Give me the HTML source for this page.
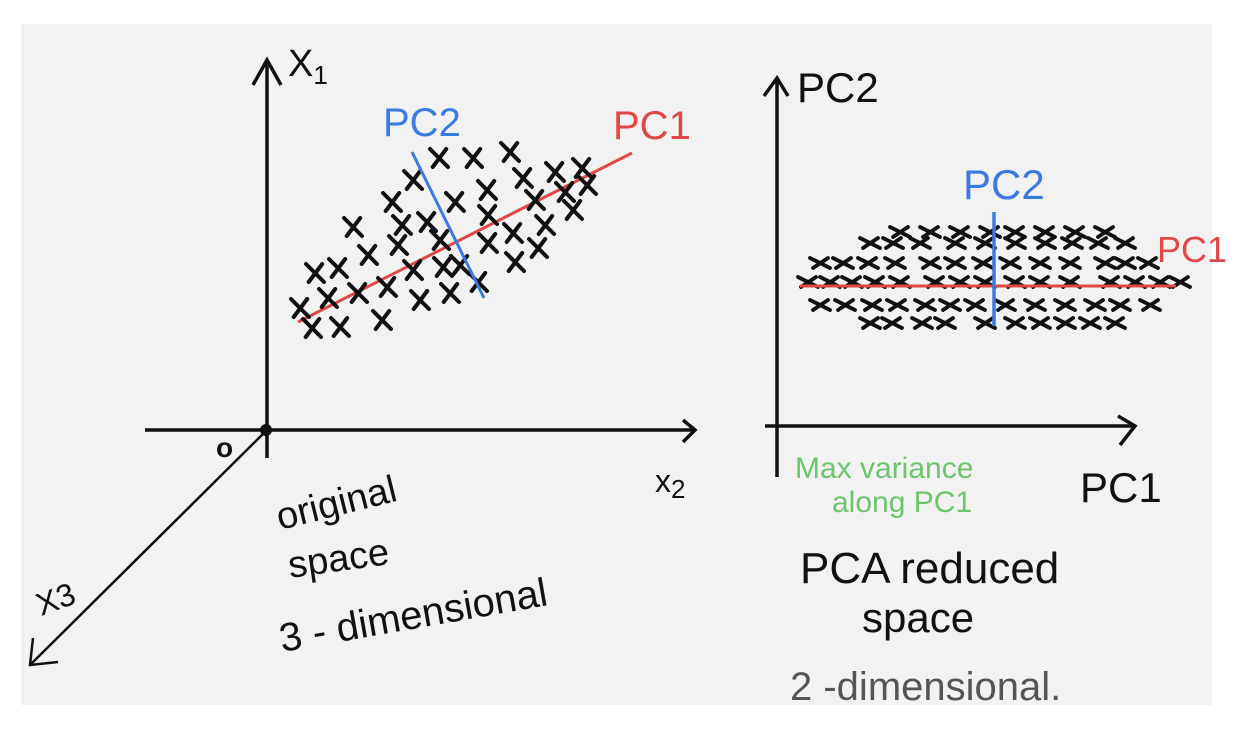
<!DOCTYPE html>
<html><head><meta charset="utf-8"><style>
html,body{margin:0;padding:0;background:#fff;}
svg{display:block;}
text{font-family:"Liberation Sans",sans-serif;}
</style></head><body>
<svg width="1238" height="733" viewBox="0 0 1238 733">
<rect x="21" y="24" width="1191" height="681" fill="#f2f2f2"/>
<g id="left">
  <line x1="145" y1="430" x2="695" y2="430" stroke="#111" stroke-width="3.5"/>
  <polyline points="683,420 695,430 683,442" fill="none" stroke="#111" stroke-width="3.5"/>
  <line x1="267" y1="458" x2="267" y2="60" stroke="#111" stroke-width="3.5"/>
  <polyline points="253,85 267,60 281,85" fill="none" stroke="#111" stroke-width="3.5"/>
  <line x1="267" y1="430" x2="30" y2="665" stroke="#111" stroke-width="2.5"/>
  <polyline points="33,638 30,665 58,662" fill="none" stroke="#111" stroke-width="2.5"/>
  <circle cx="266" cy="430" r="6" fill="#111"/>
  <text x="216" y="457" font-size="28" font-weight="bold" fill="#111">o</text>
  <text x="288" y="76" font-size="38" fill="#111">X<tspan font-size="26" dy="8">1</tspan></text>
  <text x="655" y="492" font-size="32" fill="#111">x<tspan font-size="26" dy="6">2</tspan></text>
  <text x="36" y="612" font-size="32" fill="#111" transform="rotate(-20 50 600)">X3</text>
  <text x="383" y="136" font-size="40" fill="#3b7be0">PC2</text>
  <text x="613" y="139" font-size="40" fill="#e04848">PC1</text>
  <g id="leftMarks"></g>
  <text x="280" y="530" font-size="38" fill="#111" transform="rotate(-14 280 530)">original</text>
  <text x="290" y="578" font-size="38" fill="#111" transform="rotate(-8 290 578)">space</text>
  <text x="282" y="652" font-size="40" fill="#111" transform="rotate(-10 282 652)">3 - dimensional</text>
</g>
<g id="right">
  <line x1="765" y1="426" x2="1135" y2="426" stroke="#111" stroke-width="3.5"/>
  <polyline points="1118,416 1135,426 1120,445" fill="none" stroke="#111" stroke-width="3.5"/>
  <line x1="777" y1="477" x2="777" y2="78" stroke="#111" stroke-width="3.5"/>
  <polyline points="764,96 777,78 788,96" fill="none" stroke="#111" stroke-width="3.5"/>
  <text x="797" y="102" font-size="42" fill="#111">PC2</text>
  <text x="963" y="199" font-size="42" fill="#3b7be0">PC2</text>
  <text x="1157" y="262" font-size="36" fill="#e04848">PC1</text>
  <g id="rightMarks"></g>
  <text x="1080" y="502" font-size="42" fill="#111">PC1</text>
  <text x="795" y="478" font-size="30" fill="#6cc46c">Max variance</text>
  <text x="832" y="512" font-size="30" fill="#6cc46c">along PC1</text>
  <text x="800" y="583" font-size="44" fill="#111">PCA  reduced</text>
  <text x="862" y="632" font-size="42" fill="#111">space</text>
  <text x="790" y="700" font-size="40" fill="#555">2 -dimensional.</text>
</g>
</svg>
<script>
// Left panel data (x2, x1 units)
const leftX2 = [43,51.5,60.75,36.5,64,72,78.75,31.25,47,55,67,74.5,80,21.5,33.75,40,55.25,76.5,25.25,32.75,43.25,55.25,61.5,69.5,12,17.75,36.5,44,48.25,62,67.75,8.25,15.25,22.75,30,45.75,52.75,11.25,18.25,28.75,38.25];
const leftX1 = [68,68,69.5,62.5,63,64.5,65.5,57,57,60,57.5,59.5,61.25,50.75,51.25,52,53.75,55,43.75,46.25,47.5,46.75,49.25,51.25,39.25,40.5,40,40.75,41.25,42,45.5,30.5,33,34.25,35.75,34.25,37,25.5,25.75,27.5,32.5];
const leftPC1 = [[7.75,27],[91.25,69.25]];
const leftPC2 = [[36.25,69.5],[54.25,33]];
// Right panel data (pc1, pc2 units)
const rightPC1 = [30.75,38.25,45.75,53.25,59.5,67,74.5,82,
 23.25,29,35.75,44.5,52,59.5,67,73.75,80.25,87,
 10.75,16.5,22.75,29.5,38.25,44.5,51.5,58.25,65.75,73.25,82,87,92.75,
 7.75,13.25,18.75,24.5,30.75,39.5,45.75,52,59.5,65.75,73.25,83.25,89.5,95.75,100.75,
 10.75,17,23.75,30,37,43.25,49.5,57,64.5,72,79.5,85.75,93.25,
 23.25,28.75,36.25,42,52,59.5,65.75,72,78.25,84.5];
const rightPC2 = [49,49,49,49,49,49,49,49,
 46.25,46.25,46.25,46.25,46.25,46.25,46.25,46.25,46.25,46.25,
 41.25,41.25,41.25,41.25,41.25,41.25,41.25,41.25,41.25,41.25,41.25,41.25,41.25,
 36.5,36.5,36.5,36.5,36.5,36.5,36.5,36.5,36.5,36.5,36.5,36.5,36.5,36.5,36.5,
 30.75,30.75,30.75,30.75,30.75,30.75,30.75,30.75,30.75,30.75,30.75,30.75,30.75,
 26.25,26.25,26.25,26.25,26.25,26.25,26.25,26.25,26.25,26.25];
const rightPC1Line = [[5.75,35.5],[99.75,35.5]];
const rightPC2Line = [[54.25,54],[54.25,25.5]];

const NS='http://www.w3.org/2000/svg';
const xL=v=>267+v*4, yL=v=>430-v*4;
const xR=v=>777+v*4, yR=v=>428-v*4;
function mk(tag,attrs,parent){const e=document.createElementNS(NS,tag);for(const k in attrs)e.setAttribute(k,attrs[k]);parent.appendChild(e);return e;}
function cross(g,cx,cy,w,h,sw){
  const p=mk('path',{d:`M${cx-w},${cy-h} L${cx+w},${cy+h} M${cx-w*0.7},${cy+h} L${cx+w*0.8},${cy-h}`,stroke:'#111','stroke-width':sw,'stroke-linecap':'round',fill:'none'},g);
  
  
}
const gl=document.getElementById('leftMarks');
const l1=mk('line',{x1:xL(leftPC1[0][0]),y1:yL(leftPC1[0][1]),x2:xL(leftPC1[1][0]),y2:yL(leftPC1[1][1]),stroke:'#e04848','stroke-width':3},gl);


leftX2.forEach((v,i)=>cross(gl,xL(v),yL(leftX1[i]),9,9,4));
const l2=mk('line',{x1:xL(leftPC2[0][0]),y1:yL(leftPC2[0][1]),x2:xL(leftPC2[1][0]),y2:yL(leftPC2[1][1]),stroke:'#3b7be0','stroke-width':3},gl);


const gr=document.getElementById('rightMarks');
rightPC1.forEach((v,i)=>cross(gr,xR(v),yR(rightPC2[i]),10,5,3.8));
const r1=mk('line',{x1:xR(rightPC1Line[0][0]),y1:yR(rightPC1Line[0][1]),x2:xR(rightPC1Line[1][0]),y2:yR(rightPC1Line[1][1]),stroke:'#e04848','stroke-width':3},gr);


const r2=mk('line',{x1:xR(rightPC2Line[0][0]),y1:yR(rightPC2Line[0][1]),x2:xR(rightPC2Line[1][0]),y2:yR(rightPC2Line[1][1]),stroke:'#3b7be0','stroke-width':3.5},gr);


</script>
</body></html>
